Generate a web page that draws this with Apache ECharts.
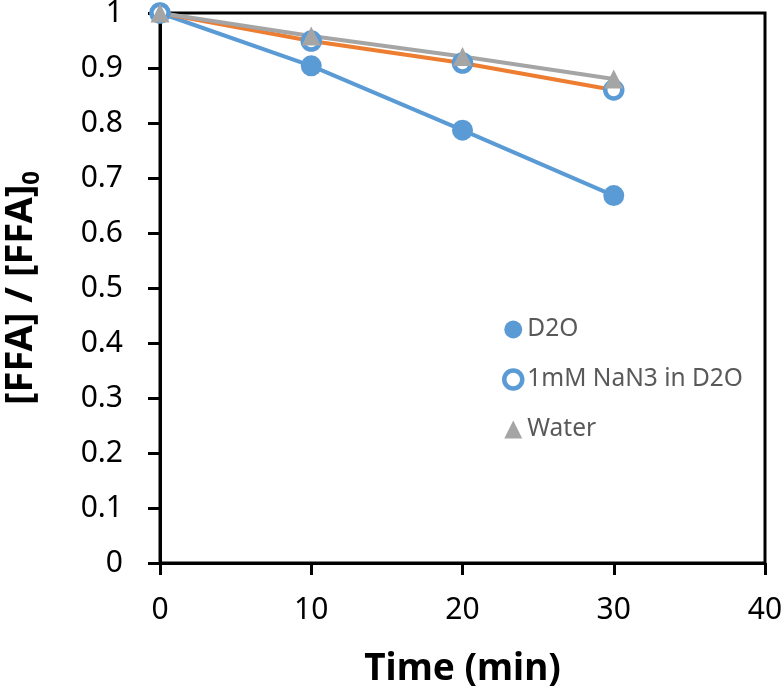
<!DOCTYPE html>
<html>
<head>
<meta charset="utf-8">
<script src="https://cdn.jsdelivr.net/npm/echarts@6/dist/echarts.min.js"></script>
<style>html,body{margin:0;padding:0;background:#fff}#c{width:782px;height:697px}</style>
</head>
<body>
<div id="c"></div>
<script>
var times = [0, 10, 20, 30];
var d2o = [1, 0.904, 0.787, 0.668];
var nan3 = [1, 0.949, 0.909, 0.860];
var water = [1, 0.958, 0.921, 0.880];
var xTicks = [0, 10, 20, 30, 40];
var yTicks = [0, 0.1, 0.2, 0.3, 0.4, 0.5, 0.6, 0.7, 0.8, 0.9, 1];
var seriesNames = ['D2O', '1mM NaN3 in D2O', 'Water'];

var FONT = '"Noto Sans", "DejaVu Sans", sans-serif';
var BLUE = '#5B9BD5', ORANGE = '#ED7D31', GRAY = '#A5A5A5';
function pairs(v) { return times.map(function (t, i) { return [t, v[i]]; }); }

var chart = echarts.init(document.getElementById('c'), null, {renderer: 'canvas'});
chart.setOption({
  backgroundColor: '#fff',
  animation: false,
  grid: {left: 160, right: 17, top: 13, bottom: 134, containLabel: false, outerBoundsMode: 'none',
    show: true, borderColor: '#000', borderWidth: 3, backgroundColor: 'transparent'},
  legend: {
    orient: 'vertical', left: 497, top: 312, itemWidth: 18, itemHeight: 18, itemGap: 25,
    textStyle: {fontFamily: FONT, fontSize: 24.5, color: '#595959', padding: [0, 0, 0, 0]},
    data: [
      {name: seriesNames[0], icon: 'circle', itemStyle: {color: BLUE, borderWidth: 0}},
      {name: seriesNames[1], icon: 'circle', itemStyle: {color: '#fff', borderColor: BLUE, borderWidth: 4.5}},
      {name: seriesNames[2], icon: 'triangle', itemStyle: {color: GRAY, borderWidth: 0}}
    ]
  },
  xAxis: {
    type: 'value', min: 0, max: 40, interval: 10,
    name: 'Time (min)', nameLocation: 'middle', nameGap: 88,
    nameTextStyle: {fontFamily: FONT, fontSize: 37, fontWeight: 'bold', color: '#000'},
    axisLine: {show: true, lineStyle: {color: '#000', width: 3}},
    axisTick: {show: true, inside: false, length: 12, lineStyle: {color: '#000', width: 3}},
    axisLabel: {fontFamily: FONT, fontSize: 30, color: '#000', margin: 32,
      formatter: function (v) { return xTicks.indexOf(v) >= 0 ? String(v) : ''; }},
    splitLine: {show: false}
  },
  yAxis: {
    type: 'value', min: 0, max: 1, interval: 0.1,
    name: '{a|[FFA] / [FFA]}{b|0}', nameLocation: 'middle', nameGap: 116,
    nameTextStyle: {color: '#000', rich: {
      a: {fontFamily: FONT, fontSize: 38, fontWeight: 'bold', color: '#000', lineHeight: 46},
      b: {fontFamily: FONT, fontSize: 24, fontWeight: 'bold', color: '#000', verticalAlign: 'bottom', lineHeight: 30}
    }},
    axisLine: {show: true, lineStyle: {color: '#000', width: 3}},
    axisTick: {show: true, inside: false, length: 12, lineStyle: {color: '#000', width: 3}},
    axisLabel: {fontFamily: FONT, fontSize: 30, color: '#000', margin: 37,
      formatter: function (v) {
        var r = Math.round(v * 10) / 10;
        return yTicks.indexOf(r) >= 0 ? String(r) : '';
      }},
    splitLine: {show: false}
  },
  series: [
    {name: seriesNames[0], type: 'line', data: pairs(d2o), symbol: 'circle', symbolSize: 21,
      itemStyle: {color: BLUE}, lineStyle: {color: BLUE, width: 4}},
    {name: seriesNames[1], type: 'line', data: pairs(nan3), symbol: 'circle', symbolSize: 17,
      itemStyle: {color: '#fff', borderColor: BLUE, borderWidth: 4.5}, lineStyle: {color: ORANGE, width: 4}},
    {name: seriesNames[2], type: 'line', data: pairs(water), symbol: 'triangle', symbolSize: 19,
      itemStyle: {color: GRAY}, lineStyle: {color: GRAY, width: 4}}
  ]
});
</script>
</body>
</html>
